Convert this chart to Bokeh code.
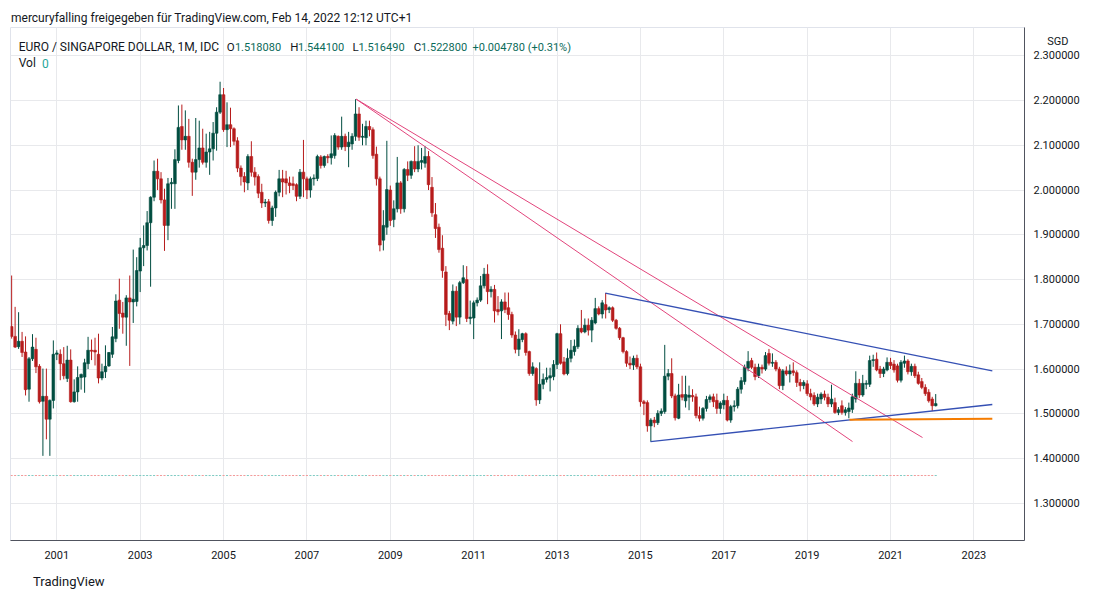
from bokeh.plotting import figure
from bokeh.models import (Range1d, FixedTicker, NumeralTickFormatter, Label, Title,
                          ColumnDataSource)
from bokeh.embed import file_html
from bokeh.resources import INLINE

# ---------------- data (EUR/SGD monthly, Dec 1999 .. Feb 2022) ----------------
first_month_offset = -13          # Dec 1999, counted in months from Jan 2001

opens = [
    1.695, 1.673, 1.650, 1.662, 1.638, 1.555, 1.623, 1.644, 1.606, 1.528, 1.539, 1.488, 1.530,
    1.633, 1.633, 1.612, 1.579, 1.620, 1.527, 1.549, 1.581, 1.582, 1.612, 1.642, 1.642,
    1.633, 1.580, 1.594, 1.607, 1.633, 1.668, 1.754, 1.725, 1.716, 1.759, 1.750, 1.751,
    1.819, 1.871, 1.876, 1.927, 1.984, 2.042, 2.025, 1.978, 1.921, 2.014, 2.014, 2.066,
    2.142, 2.112, 2.120, 2.062, 2.040, 2.068, 2.094, 2.062, 2.085, 2.092, 2.127, 2.174,
    2.213, 2.135, 2.146, 2.137, 2.110, 2.049, 2.030, 2.016, 2.075, 2.040, 2.030, 1.995,
    1.971, 1.974, 1.932, 1.960, 1.995, 2.025, 2.025, 2.016, 2.014, 2.012, 1.986, 2.040,
    2.025, 2.000, 2.025, 2.026, 2.074, 2.055, 2.075, 2.072, 2.077, 2.120, 2.096, 2.120,
    2.097, 2.103, 2.120, 2.170, 2.118, 2.117, 2.142, 2.135, 2.080, 2.025, 1.888, 1.917,
    2.000, 1.934, 1.958, 2.016, 1.958, 2.046, 2.033, 2.064, 2.047, 2.062, 2.060, 2.075,
    2.006, 1.945, 1.917, 1.870, 1.817, 1.724, 1.707, 1.774, 1.716, 1.793, 1.800, 1.713,
    1.714, 1.748, 1.754, 1.786, 1.812, 1.773, 1.778, 1.733, 1.730, 1.750, 1.737, 1.722,
    1.676, 1.644, 1.666, 1.679, 1.639, 1.590, 1.601, 1.531, 1.566, 1.577, 1.580, 1.583,
    1.610, 1.679, 1.616, 1.590, 1.624, 1.639, 1.650, 1.691, 1.683, 1.698, 1.687, 1.703,
    1.735, 1.723, 1.744, 1.733, 1.737, 1.709, 1.691, 1.670, 1.639, 1.613, 1.609, 1.624,
    1.605, 1.527, 1.525, 1.473, 1.486, 1.480, 1.501, 1.505, 1.584, 1.590, 1.540, 1.490,
    1.543, 1.529, 1.537, 1.541, 1.538, 1.496, 1.490, 1.512, 1.532, 1.538, 1.530, 1.512,
    1.520, 1.530, 1.486, 1.516, 1.518, 1.555, 1.572, 1.602, 1.619, 1.604, 1.585, 1.604,
    1.600, 1.635, 1.613, 1.615, 1.600, 1.563, 1.596, 1.589, 1.596, 1.592, 1.570, 1.563,
    1.567, 1.545, 1.541, 1.522, 1.533, 1.544, 1.537, 1.522, 1.525, 1.503, 1.518, 1.503,
    1.505, 1.510, 1.533, 1.568, 1.542, 1.566, 1.566, 1.619, 1.622, 1.600, 1.590, 1.598,
    1.615, 1.611, 1.607, 1.575, 1.613, 1.618, 1.594, 1.606, 1.587, 1.572, 1.559, 1.548,
    1.533, 1.518080,
]
highs = [
    1.809, 1.739, 1.727, 1.683, 1.673, 1.627, 1.678, 1.670, 1.611, 1.601, 1.601, 1.532, 1.664,
    1.642, 1.644, 1.649, 1.652, 1.644, 1.577, 1.606, 1.590, 1.623, 1.672, 1.666, 1.670,
    1.679, 1.612, 1.653, 1.638, 1.694, 1.767, 1.802, 1.750, 1.765, 1.809, 1.867, 1.850,
    1.893, 1.921, 1.953, 1.986, 2.066, 2.070, 2.040, 2.003, 2.027, 2.027, 2.091, 2.189,
    2.191, 2.178, 2.159, 2.070, 2.161, 2.155, 2.137, 2.126, 2.130, 2.152, 2.185, 2.242,
    2.228, 2.196, 2.184, 2.140, 2.118, 2.055, 2.040, 2.080, 2.109, 2.051, 2.035, 2.014,
    1.980, 1.980, 1.965, 1.999, 2.045, 2.045, 2.043, 2.030, 2.030, 2.015, 2.047, 2.112,
    2.030, 2.030, 2.035, 2.079, 2.078, 2.077, 2.080, 2.122, 2.127, 2.122, 2.164, 2.126,
    2.130, 2.127, 2.203, 2.185, 2.148, 2.155, 2.155, 2.140, 2.097, 2.030, 1.955, 2.110,
    2.010, 1.977, 2.074, 2.020, 2.049, 2.064, 2.066, 2.098, 2.100, 2.094, 2.098, 2.087,
    2.029, 1.971, 1.925, 1.899, 1.830, 1.730, 1.789, 1.785, 1.797, 1.832, 1.830, 1.753,
    1.753, 1.760, 1.808, 1.826, 1.834, 1.785, 1.788, 1.763, 1.756, 1.771, 1.771, 1.728,
    1.684, 1.689, 1.681, 1.682, 1.641, 1.615, 1.604, 1.615, 1.590, 1.603, 1.603, 1.620,
    1.681, 1.700, 1.627, 1.646, 1.665, 1.666, 1.698, 1.732, 1.713, 1.713, 1.716, 1.759,
    1.740, 1.754, 1.770, 1.740, 1.740, 1.712, 1.694, 1.672, 1.642, 1.628, 1.630, 1.632,
    1.612, 1.531, 1.530, 1.490, 1.493, 1.508, 1.512, 1.654, 1.600, 1.624, 1.545, 1.567,
    1.585, 1.585, 1.563, 1.555, 1.545, 1.516, 1.515, 1.540, 1.543, 1.545, 1.545, 1.528,
    1.545, 1.540, 1.520, 1.530, 1.560, 1.582, 1.610, 1.640, 1.625, 1.612, 1.612, 1.610,
    1.638, 1.645, 1.635, 1.620, 1.605, 1.600, 1.606, 1.610, 1.615, 1.597, 1.578, 1.575,
    1.575, 1.556, 1.548, 1.545, 1.548, 1.552, 1.545, 1.565, 1.536, 1.515, 1.530, 1.515,
    1.525, 1.545, 1.595, 1.578, 1.587, 1.575, 1.630, 1.632, 1.637, 1.607, 1.605, 1.626,
    1.625, 1.620, 1.612, 1.620, 1.630, 1.622, 1.612, 1.612, 1.594, 1.580, 1.566, 1.555,
    1.538, 1.544100,
]
lows = [
    1.668, 1.647, 1.645, 1.627, 1.541, 1.527, 1.618, 1.591, 1.523, 1.406, 1.443, 1.406, 1.512,
    1.620, 1.575, 1.577, 1.571, 1.525, 1.525, 1.527, 1.554, 1.547, 1.600, 1.620, 1.608,
    1.568, 1.575, 1.580, 1.605, 1.625, 1.660, 1.690, 1.679, 1.652, 1.607, 1.703, 1.740,
    1.772, 1.830, 1.865, 1.784, 1.975, 2.000, 1.970, 1.864, 1.888, 1.958, 1.958, 2.060,
    2.090, 2.090, 2.050, 1.987, 2.023, 2.050, 2.057, 2.050, 2.034, 2.066, 2.088, 2.170,
    2.130, 2.096, 2.096, 2.100, 2.040, 2.010, 1.995, 2.000, 2.030, 2.010, 1.982, 1.960,
    1.962, 1.925, 1.920, 1.940, 1.986, 1.984, 1.990, 1.993, 2.000, 1.975, 1.980, 1.984,
    1.980, 1.983, 2.010, 2.020, 2.048, 2.050, 2.060, 2.057, 2.070, 2.090, 2.090, 2.087,
    2.051, 2.090, 2.110, 2.110, 2.100, 2.100, 2.120, 2.070, 2.010, 1.863, 1.865, 1.900,
    1.920, 1.917, 1.950, 1.947, 1.950, 2.020, 2.025, 2.040, 2.040, 2.046, 2.050, 2.000,
    1.940, 1.893, 1.860, 1.804, 1.696, 1.687, 1.700, 1.696, 1.700, 1.790, 1.705, 1.700,
    1.667, 1.740, 1.750, 1.780, 1.745, 1.760, 1.704, 1.720, 1.667, 1.725, 1.710, 1.670,
    1.635, 1.629, 1.660, 1.630, 1.585, 1.585, 1.518, 1.522, 1.555, 1.570, 1.550, 1.575,
    1.600, 1.610, 1.586, 1.586, 1.615, 1.630, 1.645, 1.680, 1.680, 1.675, 1.660, 1.700,
    1.720, 1.713, 1.713, 1.725, 1.705, 1.688, 1.665, 1.635, 1.605, 1.600, 1.598, 1.600,
    1.516, 1.497, 1.460, 1.438, 1.470, 1.475, 1.495, 1.500, 1.575, 1.535, 1.485, 1.488,
    1.530, 1.514, 1.508, 1.527, 1.490, 1.483, 1.485, 1.505, 1.525, 1.515, 1.500, 1.500,
    1.510, 1.483, 1.480, 1.505, 1.512, 1.545, 1.565, 1.595, 1.600, 1.575, 1.580, 1.590,
    1.596, 1.608, 1.605, 1.595, 1.555, 1.553, 1.585, 1.570, 1.585, 1.560, 1.550, 1.555,
    1.540, 1.530, 1.518, 1.515, 1.522, 1.530, 1.515, 1.515, 1.500, 1.497, 1.498, 1.496,
    1.490, 1.502, 1.525, 1.535, 1.538, 1.555, 1.560, 1.605, 1.595, 1.580, 1.582, 1.595,
    1.600, 1.592, 1.570, 1.570, 1.603, 1.588, 1.585, 1.580, 1.565, 1.555, 1.540, 1.525,
    1.506, 1.516490,
]
closes = [
    1.673, 1.649, 1.662, 1.637, 1.554, 1.623, 1.649, 1.605, 1.527, 1.539, 1.488, 1.530, 1.633,
    1.636, 1.612, 1.585, 1.620, 1.527, 1.549, 1.581, 1.588, 1.614, 1.642, 1.640, 1.638,
    1.580, 1.594, 1.606, 1.637, 1.672, 1.752, 1.724, 1.716, 1.759, 1.750, 1.756, 1.820,
    1.871, 1.876, 1.927, 1.984, 2.042, 2.025, 1.978, 1.921, 2.014, 2.017, 2.068, 2.140,
    2.112, 2.120, 2.062, 2.040, 2.068, 2.094, 2.062, 2.085, 2.092, 2.127, 2.174, 2.213,
    2.135, 2.146, 2.137, 2.109, 2.049, 2.030, 2.018, 2.075, 2.040, 2.029, 1.993, 1.971,
    1.973, 1.932, 1.960, 1.995, 2.025, 2.018, 2.016, 2.010, 2.010, 1.986, 2.040, 2.025,
    2.000, 2.025, 2.027, 2.075, 2.055, 2.075, 2.072, 2.081, 2.122, 2.096, 2.120, 2.097,
    2.107, 2.120, 2.170, 2.118, 2.120, 2.142, 2.135, 2.077, 2.025, 1.877, 1.921, 2.001,
    1.932, 1.958, 2.016, 1.958, 2.046, 2.033, 2.064, 2.047, 2.064, 2.066, 2.075, 2.012,
    1.949, 1.914, 1.867, 1.820, 1.722, 1.709, 1.774, 1.716, 1.793, 1.804, 1.713, 1.716,
    1.748, 1.754, 1.786, 1.812, 1.773, 1.778, 1.730, 1.728, 1.750, 1.733, 1.722, 1.676,
    1.644, 1.667, 1.679, 1.637, 1.590, 1.605, 1.531, 1.566, 1.577, 1.581, 1.585, 1.610,
    1.679, 1.613, 1.589, 1.624, 1.642, 1.651, 1.691, 1.683, 1.698, 1.687, 1.709, 1.735,
    1.723, 1.748, 1.732, 1.737, 1.709, 1.691, 1.670, 1.639, 1.613, 1.609, 1.624, 1.605,
    1.527, 1.523, 1.473, 1.486, 1.480, 1.501, 1.506, 1.584, 1.590, 1.540, 1.491, 1.542,
    1.537, 1.543, 1.542, 1.538, 1.496, 1.490, 1.512, 1.532, 1.538, 1.527, 1.512, 1.524,
    1.530, 1.486, 1.516, 1.518, 1.555, 1.574, 1.604, 1.617, 1.604, 1.583, 1.604, 1.600,
    1.630, 1.613, 1.615, 1.600, 1.563, 1.596, 1.589, 1.596, 1.592, 1.570, 1.563, 1.570,
    1.545, 1.538, 1.522, 1.537, 1.544, 1.537, 1.522, 1.533, 1.503, 1.509, 1.503, 1.509,
    1.513, 1.538, 1.568, 1.542, 1.568, 1.568, 1.619, 1.621, 1.598, 1.590, 1.600, 1.615,
    1.608, 1.598, 1.575, 1.615, 1.618, 1.594, 1.606, 1.585, 1.568, 1.559, 1.545, 1.529,
    1.518, 1.522800,
]

# drawn trend lines: (month offset from Jan 2001, price) anchors
pink_lines_x = [[86.2, 229.05], [86.2, 249.2]]
pink_lines_y = [[2.203, 1.438], [2.203, 1.447]]
blue_lines_x = [[157.9, 269.3], [170.9, 269.3]]
blue_lines_y = [[1.7695, 1.5961], [1.438, 1.5208]]
orange_line_x = [228.2, 269.3]
orange_line_y = [1.4866, 1.4888]

year_ticks = list(range(2001, 2024, 2))
price_ticks = [1.3, 1.4, 1.5, 1.6, 1.7, 1.8, 1.9, 2.0, 2.1, 2.2, 2.3]
currency_label = "SGD"
currency_label_level = 2.332

# ---------------- figure ----------------
GREEN = "#004d40"
RED = "#b71c1c"
TXT = "#131722"
FONT = "Roboto"
W, H = 1098, 600

n = min(len(opens), len(highs), len(lows), len(closes))
xs = [first_month_offset + i for i in range(n)]
is_up = [closes[i] >= opens[i] for i in range(n)]
src = ColumnDataSource(dict(
    x=xs,
    top=[max(opens[i], closes[i]) for i in range(n)],
    bottom=[min(opens[i], closes[i]) for i in range(n)],
    high=highs[:n], low=lows[:n],
    color=[GREEN if u else RED for u in is_up],
    vcolor=["#7fcbc3" if u else "#f29a9a" for u in is_up],
    x0=[x - 0.3 for x in xs], x1=[x + 0.3 for x in xs],
))

p = figure(width=W, height=H, output_backend="svg", toolbar_location=None,
           x_range=Range1d(-13.33, 278.56), y_range=Range1d(1.2169, 2.3632),
           y_axis_location="right",
           min_border_left=10, min_border_right=W - 1024, min_border_top=27,
           min_border_bottom=H - 540)
p.outline_line_color = "#e0e3eb"
p.background_fill_color = "white"
p.border_fill_color = "white"

# header and footer
p.title = Title(text="mercuryfalling freigegeben für TradingView.com, Feb 14, 2022 12:12 UTC+1",
                align="left", offset=0.5, standoff=5, text_font=FONT, text_font_size="12px",
                text_font_style="normal", text_color=TXT)
p.add_layout(Title(text="TradingView", align="left", offset=22.5, standoff=21,
                   text_font=FONT, text_font_size="13px", text_font_style="normal",
                   text_color=TXT), "below")

# axes
p.xaxis.ticker = FixedTicker(ticks=[(y - 2001) * 12 for y in year_ticks])
p.xaxis.major_label_overrides = {(y - 2001) * 12: str(y) for y in year_ticks}
p.yaxis.ticker = FixedTicker(ticks=price_ticks + [currency_label_level])
p.yaxis.formatter = NumeralTickFormatter(format="0.000000")
p.yaxis.major_label_overrides = {currency_label_level: "\u00a0\u00a0\u00a0\u00a0\u00a0" + currency_label}
p.ygrid.ticker = FixedTicker(ticks=price_ticks)
for ax in (p.xaxis, p.yaxis):
    ax.major_tick_line_color = None
    ax.minor_tick_line_color = None
    ax.major_tick_out = 0
    ax.major_tick_in = 0
    ax.minor_tick_out = 0
    ax.axis_line_color = "#50535e"
    ax.major_label_text_font = FONT
    ax.major_label_text_font_size = "11px"
    ax.major_label_text_color = TXT
p.yaxis.major_label_standoff = 9
p.xaxis.major_label_standoff = 10
p.grid.grid_line_color = "#e8e9ec"

# volume zero line (one tiny bar per candle)
p.segment(x0="x0", x1="x1", y0=1.3621, y1=1.3621, line_color="vcolor", line_width=1, source=src)

# candles
p.segment(x0="x", y0="low", x1="x", y1="high", line_color="color", line_width=1, source=src)
p.vbar(x="x", width=0.78, top="top", bottom="bottom", fill_color="color",
       line_color="color", line_width=0.6, source=src)

# trend lines
p.multi_line(xs=pink_lines_x, ys=pink_lines_y, line_color="#e2457c", line_width=1)
p.multi_line(xs=blue_lines_x, ys=blue_lines_y, line_color="#3550b4", line_width=1.3)
p.line(orange_line_x, orange_line_y, line_color="#f57c00", line_width=2)


# ---------------- legend texts inside the pane (screen units relative to frame) -----
def lab(text, X, Y, size="12px", color=TXT):
    p.add_layout(Label(x=X - 10, y=540 - Y, x_units="screen", y_units="screen", text=text,
                       text_font=FONT, text_font_size=size, text_color=color,
                       text_align="left", text_baseline="middle"))


lab("EURO / SINGAPORE DOLLAR, 1M, IDC", 18.2, 46.5)
VAL = "#0b6b5a"
for letter, lx, num, nx in (("O", 226.3, "1.518080", 234.4), ("H", 289.8, "1.544100", 297.5),
                            ("L", 351.9, "1.516490", 357.9), ("C", 413.3, "1.522800", 420.4)):
    lab(letter, lx, 46.5, size="11.5px")
    lab(num, nx, 46.5, size="11px", color=VAL)
lab("+0.004780 (+0.31%)", 472, 46.5, size="11px", color=VAL)
lab("Vol", 18.2, 62.5)
lab("0", 41.4, 62.5, color="#26a69a")

open("out.html", "w").write(file_html(p, INLINE))
